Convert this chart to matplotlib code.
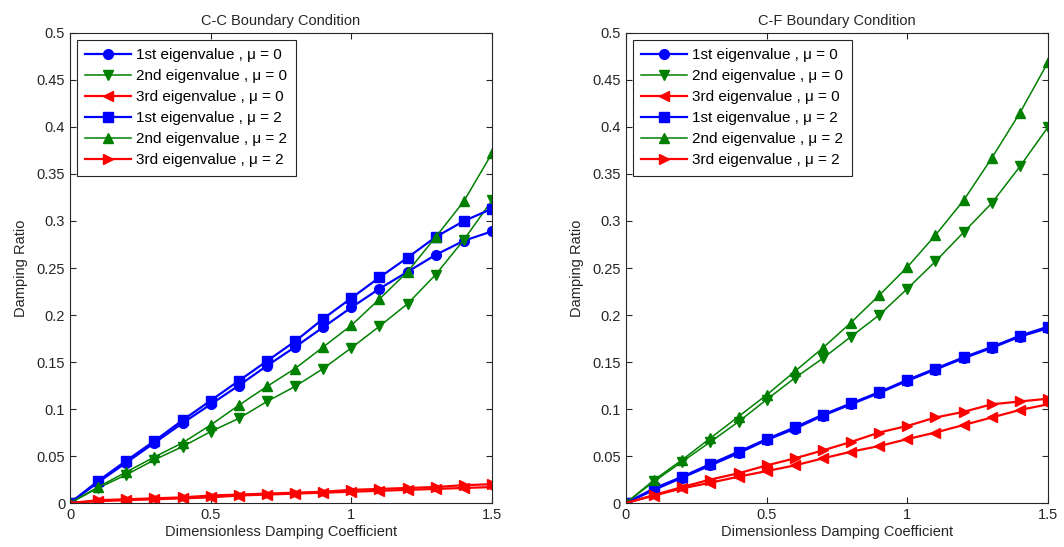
import numpy as np
import matplotlib
matplotlib.use('Agg')
import matplotlib.pyplot as plt
from matplotlib.ticker import FuncFormatter

plt.rcParams['font.family'] = ['Liberation Sans', 'DejaVu Sans']
plt.rcParams['font.size'] = 10.5

# damping coefficient grid
c = [0, 0.1, 0.2, 0.3, 0.4, 0.5, 0.6, 0.7, 0.8, 0.9, 1.0, 1.1, 1.2, 1.3, 1.4, 1.5]

# clamped-clamped
cc_1st_mu0 = [0, 0.022, 0.043, 0.064, 0.085, 0.105, 0.125, 0.146, 0.166, 0.187, 0.208, 0.228, 0.246, 0.264, 0.279, 0.289]
cc_2nd_mu0 = [0, 0.016, 0.030, 0.046, 0.060, 0.076, 0.090, 0.108, 0.124, 0.143, 0.165, 0.188, 0.212, 0.243, 0.280, 0.322]
cc_3rd_mu0 = [0, 0.002, 0.003, 0.004, 0.005, 0.006, 0.008, 0.009, 0.010, 0.011, 0.012, 0.013, 0.014, 0.015, 0.016, 0.017]
cc_1st_mu2 = [0, 0.0235, 0.045, 0.066, 0.088, 0.109, 0.130, 0.151, 0.172, 0.196, 0.218, 0.240, 0.261, 0.283, 0.300, 0.313]
cc_2nd_mu2 = [0, 0.017, 0.033, 0.049, 0.064, 0.083, 0.104, 0.124, 0.143, 0.166, 0.189, 0.217, 0.246, 0.283, 0.321, 0.372]
cc_3rd_mu2 = [0, 0.003, 0.004, 0.005, 0.006, 0.008, 0.009, 0.010, 0.011, 0.012, 0.014, 0.015, 0.016, 0.017, 0.019, 0.020]

# clamped-free
cf_1st_mu0 = [0, 0.014, 0.027, 0.040, 0.053, 0.067, 0.079, 0.093, 0.105, 0.117, 0.130, 0.142, 0.154, 0.165, 0.177, 0.186]
cf_2nd_mu0 = [0, 0.023, 0.044, 0.065, 0.0865, 0.110, 0.133, 0.154, 0.177, 0.200, 0.228, 0.257, 0.288, 0.319, 0.358, 0.400]
cf_3rd_mu0 = [0, 0.008, 0.0156, 0.0216, 0.028, 0.034, 0.040, 0.0475, 0.0546, 0.0606, 0.068, 0.075, 0.083, 0.091, 0.099, 0.105]
cf_1st_mu2 = [0, 0.0156, 0.028, 0.0415, 0.0546, 0.068, 0.0805, 0.094, 0.106, 0.118, 0.131, 0.143, 0.155, 0.166, 0.178, 0.1876]
cf_2nd_mu2 = [0, 0.0245, 0.046, 0.069, 0.092, 0.115, 0.140, 0.165, 0.192, 0.221, 0.251, 0.285, 0.322, 0.367, 0.415, 0.469]
cf_3rd_mu2 = [0, 0.0085, 0.017, 0.025, 0.0316, 0.040, 0.0475, 0.056, 0.065, 0.075, 0.082, 0.091, 0.097, 0.105, 0.108, 0.111]

labels = ['1st eigenvalue , \u03bc = 0', '2nd eigenvalue , \u03bc = 0', '3rd eigenvalue , \u03bc = 0',
          '1st eigenvalue , \u03bc = 2', '2nd eigenvalue , \u03bc = 2', '3rd eigenvalue , \u03bc = 2']
styles = [('b', 'o', 1.6), ('#008000', 'v', 1.1), ('r', '<', 1.6),
          ('b', 's', 1.6), ('#008000', '^', 1.1), ('r', '>', 1.6)]

cc = [cc_1st_mu0, cc_2nd_mu0, cc_3rd_mu0, cc_1st_mu2, cc_2nd_mu2, cc_3rd_mu2]
cf = [cf_1st_mu0, cf_2nd_mu0, cf_3rd_mu0, cf_1st_mu2, cf_2nd_mu2, cf_3rd_mu2]

fig = plt.figure(figsize=(10.64, 5.47), dpi=100)
ax1 = fig.add_axes([0.0658, 0.0804, 0.3966, 0.8593])
ax2 = fig.add_axes([0.5883, 0.0804, 0.3967, 0.8593])

fmt = FuncFormatter(lambda v, p: '%g' % round(v, 3))

for ax, data, title in [(ax1, cc, 'C-C Boundary Condition'), (ax2, cf, 'C-F Boundary Condition')]:
    for y, (col, mk, lw), lab in zip(data, styles, labels):
        ax.plot(c, y, color=col, marker=mk, markersize=7, linewidth=lw, label=lab)
    ax.set_xlim(0, 1.5)
    ax.set_ylim(0, 0.5)
    ax.set_xticks([0, 0.5, 1, 1.5])
    ax.set_yticks(np.arange(0, 0.501, 0.05))
    ax.xaxis.set_major_formatter(fmt)
    ax.yaxis.set_major_formatter(fmt)
    ax.tick_params(direction='in', top=True, right=True, length=4, width=0.8, colors='#262626', labelcolor='#262626')
    for s in ax.spines.values():
        s.set_color('#262626')
        s.set_linewidth(0.8)
    ax.set_title(title, fontsize=10.5, color='#262626', pad=6)
    ax.set_xlabel('Dimensionless Damping Coefficient', color='#262626', labelpad=2)
    ax.set_ylabel('Damping Ratio', color='#262626', labelpad=6)
    leg = ax.legend(loc='upper left', numpoints=1, fontsize=11, handlelength=3.0, handletextpad=0.35,
                    labelspacing=0.46, borderpad=0.55, borderaxespad=0.45, fancybox=False,
                    edgecolor='#262626', framealpha=1)
    leg.get_frame().set_linewidth(0.8)

fig.savefig('out.png', dpi=100)
plt.close(fig)
